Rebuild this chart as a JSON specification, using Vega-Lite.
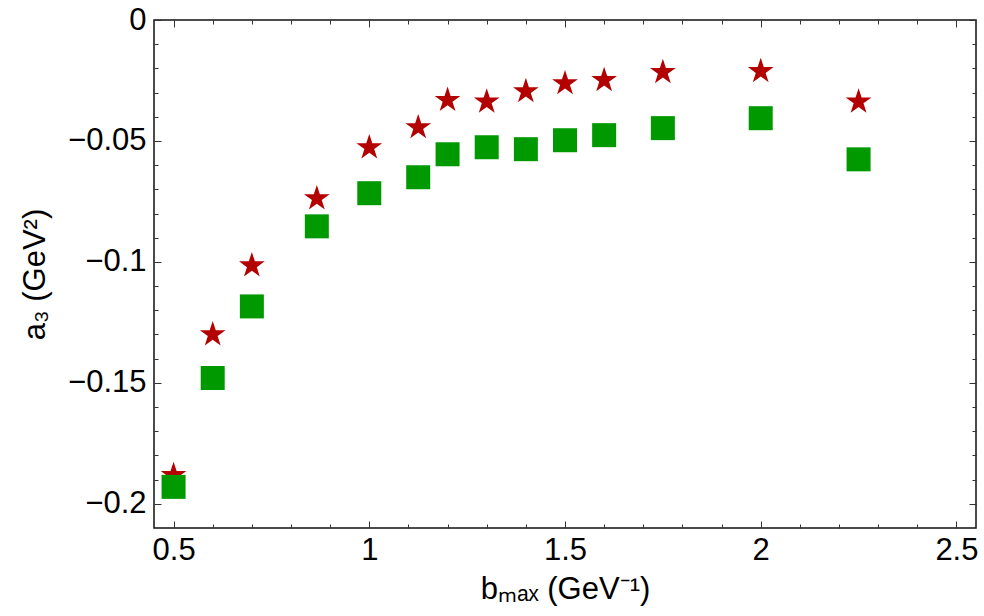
{
  "$schema": "https://vega.github.io/schema/vega-lite/v6.json",
  "width": 822,
  "height": 508,
  "autosize": "none",
  "padding": {"left": 154, "top": 20, "right": 8, "bottom": 88},
  "background": "white",
  "config": {
    "view": {"stroke": "#111", "strokeWidth": 1.5},
    "axis": {
      "domain": false,
      "grid": false,
      "tickColor": "#333",
      "tickWidth": 1,
      "labelFont": "Liberation Sans",
      "labelFontSize": 31,
      "labelColor": "#000",
      "labelOverlap": false,
      "labelFlush": false,
      "titleFont": "Liberation Sans",
      "titleFontSize": 31,
      "titleFontWeight": "normal",
      "titleColor": "#000"
    }
  },
  "data": {
    "values": [
      {"b": 0.5, "a3": -0.1882, "series": "star"},
      {"b": 0.6, "a3": -0.1300, "series": "star"},
      {"b": 0.7, "a3": -0.1015, "series": "star"},
      {"b": 0.866, "a3": -0.0738, "series": "star"},
      {"b": 1.0, "a3": -0.0527, "series": "star"},
      {"b": 1.125, "a3": -0.0444, "series": "star"},
      {"b": 1.2, "a3": -0.0331, "series": "star"},
      {"b": 1.3, "a3": -0.0338, "series": "star"},
      {"b": 1.4, "a3": -0.0295, "series": "star"},
      {"b": 1.5, "a3": -0.0262, "series": "star"},
      {"b": 1.6, "a3": -0.0249, "series": "star"},
      {"b": 1.75, "a3": -0.0216, "series": "star"},
      {"b": 2.0, "a3": -0.0212, "series": "star"},
      {"b": 2.25, "a3": -0.0338, "series": "star"},
      {"b": 0.5, "a3": -0.1930, "series": "square"},
      {"b": 0.6, "a3": -0.1480, "series": "square"},
      {"b": 0.7, "a3": -0.1184, "series": "square"},
      {"b": 0.866, "a3": -0.0853, "series": "square"},
      {"b": 1.0, "a3": -0.0716, "series": "square"},
      {"b": 1.125, "a3": -0.0650, "series": "square"},
      {"b": 1.2, "a3": -0.0555, "series": "square"},
      {"b": 1.3, "a3": -0.0526, "series": "square"},
      {"b": 1.4, "a3": -0.0534, "series": "square"},
      {"b": 1.5, "a3": -0.0497, "series": "square"},
      {"b": 1.6, "a3": -0.0476, "series": "square"},
      {"b": 1.75, "a3": -0.0447, "series": "square"},
      {"b": 2.0, "a3": -0.0406, "series": "square"},
      {"b": 2.25, "a3": -0.0576, "series": "square"}
    ]
  },
  "layer": [
    {
      "mark": {"type": "point", "filled": true, "opacity": 1, "strokeWidth": 0},
      "encoding": {
        "x": {
          "field": "b", "type": "quantitative",
          "scale": {"domain": [0.45, 2.55], "nice": false, "zero": false},
          "axis": {
            "orient": "bottom",
            "title": "bₘₐₓ (GeV⁻¹)",
            "values": [0.5,0.6,0.7,0.8,0.9,1.0,1.1,1.2,1.3,1.4,1.5,1.6,1.7,1.8,1.9,2.0,2.1,2.2,2.3,2.4,2.5],
            "labelExpr": "abs(datum.value*2 - round(datum.value*2)) < 1e-6 ? format(datum.value, '~g') : ''",
            "tickSize": {"condition": {"test": "abs(datum.value*2 - round(datum.value*2)) < 1e-6", "value": -7}, "value": -4},
            "labelPadding": 14,
            "titlePadding": 6
          }
        },
        "y": {
          "field": "a3", "type": "quantitative",
          "scale": {"domain": [-0.21, 0], "nice": false, "zero": false},
          "axis": {
            "orient": "left",
            "title": "a₃ (GeV²)",
            "values": [0,-0.01,-0.02,-0.03,-0.04,-0.05,-0.06,-0.07,-0.08,-0.09,-0.1,-0.11,-0.12,-0.13,-0.14,-0.15,-0.16,-0.17,-0.18,-0.19,-0.2],
            "labelExpr": "abs(datum.value*20 - round(datum.value*20)) < 1e-6 ? format(datum.value, '~g') : ''",
            "tickSize": {"condition": {"test": "abs(datum.value*20 - round(datum.value*20)) < 1e-6", "value": -7}, "value": -4},
            "labelPadding": 15,
            "titlePadding": 16
          }
        },
        "shape": {
          "field": "series", "type": "nominal",
          "scale": {"domain": ["star", "square"], "range": ["M0,-1L0.2245,-0.309L0.9511,-0.309L0.3633,0.118L0.5878,0.809L0,0.382L-0.5878,0.809L-0.3633,0.118L-0.9511,-0.309L-0.2245,-0.309Z", "square"]},
          "legend": null
        },
        "color": {
          "field": "series", "type": "nominal",
          "scale": {"domain": ["star", "square"], "range": ["#b30000", "#009900"]},
          "legend": null
        },
        "size": {
          "field": "series", "type": "nominal",
          "scale": {"domain": ["star", "square"], "range": [729, 576]},
          "legend": null
        }
      }
    },
    {
      "mark": {"type": "point", "opacity": 0},
      "encoding": {
        "x": {
          "field": "b", "type": "quantitative",
          "axis": {
            "orient": "top",
            "title": null,
            "labels": false,
            "values": [0.5,0.6,0.7,0.8,0.9,1.0,1.1,1.2,1.3,1.4,1.5,1.6,1.7,1.8,1.9,2.0,2.1,2.2,2.3,2.4,2.5],
            "tickSize": {"condition": {"test": "abs(datum.value*2 - round(datum.value*2)) < 1e-6", "value": -7}, "value": -4}
          }
        },
        "y": {
          "field": "a3", "type": "quantitative",
          "axis": {
            "orient": "right",
            "title": null,
            "labels": false,
            "values": [0,-0.01,-0.02,-0.03,-0.04,-0.05,-0.06,-0.07,-0.08,-0.09,-0.1,-0.11,-0.12,-0.13,-0.14,-0.15,-0.16,-0.17,-0.18,-0.19,-0.2],
            "tickSize": {"condition": {"test": "abs(datum.value*20 - round(datum.value*20)) < 1e-6", "value": -7}, "value": -4}
          }
        }
      }
    }
  ],
  "resolve": {"axis": {"x": "independent", "y": "independent"}}
}
